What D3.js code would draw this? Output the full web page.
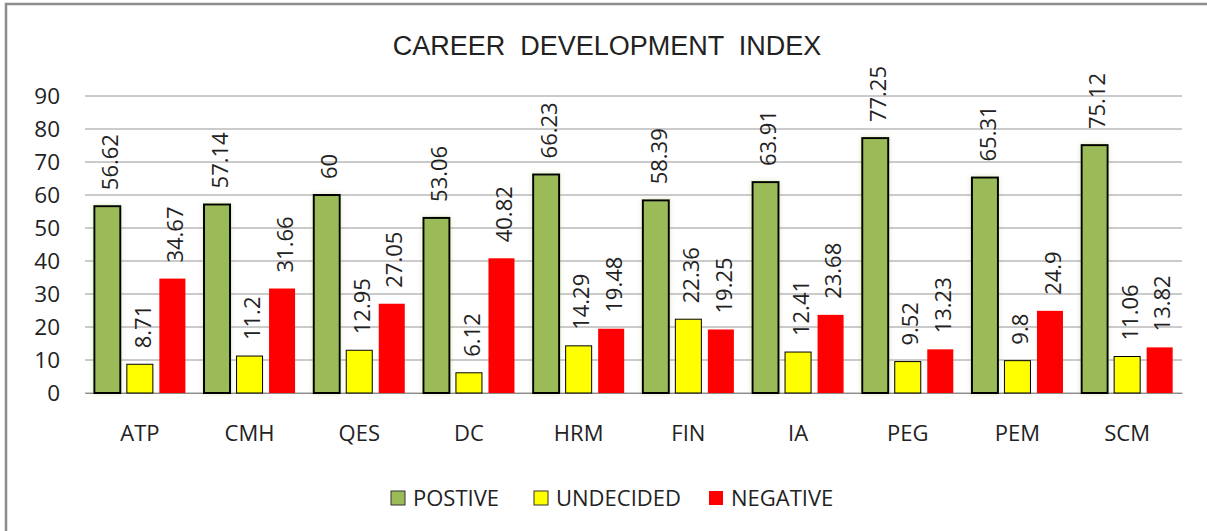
<!DOCTYPE html>
<html>
<head>
<meta charset="utf-8">
<script src="https://cdn.jsdelivr.net/npm/d3@7"></script>
<style>
  body { margin: 0; background: #fff; }
  svg text { font-family: "Open Sans", "Noto Sans", sans-serif; fill: #222; }
</style>
</head>
<body>
<svg id="chart" width="1207" height="531"></svg>
<script>
var categories = ["ATP", "CMH", "QES", "DC", "HRM", "FIN", "IA", "PEG", "PEM", "SCM"];
var seriesNames = ["POSTIVE", "UNDECIDED", "NEGATIVE"];
var positive = [56.62, 57.14, 60, 53.06, 66.23, 58.39, 63.91, 77.25, 65.31, 75.12];
var undecided = [8.71, 11.2, 12.95, 6.12, 14.29, 22.36, 12.41, 9.52, 9.8, 11.06];
var negative = [34.67, 31.66, 27.05, 40.82, 19.48, 19.25, 23.68, 13.23, 24.9, 13.82];
var yTicks = [0, 10, 20, 30, 40, 50, 60, 70, 80, 90];
var colors = ["#9bbb59", "#ffff00", "#ff0000"];

var svg = d3.select("#chart");
var margin = {left: 85, right: 25, top: 96, bottom: 138};
var W = 1207, H = 531;

// frame
svg.append("rect").attr("x", 6).attr("y", 4).attr("width", 1220).attr("height", 540)
	.attr("fill", "none").attr("stroke", "#8c8c8c").attr("stroke-width", 2.5);

var defs = svg.append("defs");
var glow = defs.append("filter").attr("id", "glow").attr("x", "-30%").attr("y", "-10%").attr("width", "160%").attr("height", "120%");
glow.append("feGaussianBlur").attr("in", "SourceAlpha").attr("stdDeviation", 2.5).attr("result", "b");
glow.append("feFlood").attr("flood-color", "#9bbb59").attr("flood-opacity", 0.35);
glow.append("feComposite").attr("in2", "b").attr("operator", "in").attr("result", "s");
var mg = glow.append("feMerge");
mg.append("feMergeNode").attr("in", "s");
mg.append("feMergeNode").attr("in", "SourceGraphic");

var x0 = d3.scaleBand().domain(categories).range([margin.left, W - margin.right]).paddingInner(0.17).paddingOuter(0.085);
var x1 = d3.scaleBand().domain(seriesNames).range([0, x0.bandwidth()]).paddingInner(0.2);
var y = d3.scaleLinear().domain([0, 90]).range([H - margin.bottom, margin.top]);

// gridlines
svg.append("g").selectAll("line").data(yTicks).enter().append("line")
	.attr("x1", margin.left).attr("x2", W - margin.right)
	.attr("y1", function(d){ return y(d); }).attr("y2", function(d){ return y(d); })
	.attr("stroke", "#969696").attr("stroke-width", 1);

// y axis labels
var yAxis = d3.axisLeft(y).tickValues(yTicks).tickSize(0).tickPadding(25);
var ga = svg.append("g").attr("transform", "translate(" + margin.left + ",0)").call(yAxis);
ga.select(".domain").remove();
ga.selectAll("text").attr("font-size", 22.5).style("font-family", "'Open Sans', sans-serif").attr("fill", "#222");

// x labels
var xAxis = d3.axisBottom(x0).tickSize(0).tickPadding(32);
var gx = svg.append("g").attr("transform", "translate(0," + y(0) + ")").call(xAxis);
gx.select(".domain").attr("stroke", "#8c8c8c");
gx.selectAll("text").attr("font-size", 22).style("font-family", "'Open Sans', sans-serif").attr("fill", "#222");

var rows = categories.map(function(c, i){
	return [
		{cat: c, s: seriesNames[0], v: positive[i], k: 0},
		{cat: c, s: seriesNames[1], v: undecided[i], k: 1},
		{cat: c, s: seriesNames[2], v: negative[i], k: 2}
	];
});

var groups = svg.append("g").selectAll("g").data(rows).enter().append("g")
	.attr("transform", function(d){ return "translate(" + x0(d[0].cat) + ",0)"; });

groups.selectAll("rect").data(function(d){ return d; }).enter().append("rect")
	.attr("x", function(d){ return x1(d.s); })
	.attr("y", function(d){ return y(d.v); })
	.attr("width", x1.bandwidth())
	.attr("height", function(d){ return y(0) - y(d.v); })
	.attr("fill", function(d){ return colors[d.k]; })
	.attr("stroke", function(d){ return d.k == 2 ? "none" : "#000"; })
	.attr("stroke-width", function(d){ return d.k == 0 ? 2 : 1; })
	.attr("filter", function(d){ return d.k == 0 ? "url(#glow)" : null; });

groups.selectAll("text").data(function(d){ return d; }).enter().append("text")
	.attr("transform", function(d){
		var cx = x1(d.s) + x1.bandwidth() / 2 + 3;
		return "translate(" + cx + "," + (y(d.v) - 16) + ") rotate(-90)";
	})
	.attr("dy", "0.35em")
	.attr("font-size", 22)
	.text(function(d){ return d.v; });

// title
svg.append("text").attr("x", 607).attr("y", 55).attr("text-anchor", "middle")
	.style("font-family", "'Liberation Sans', Arial, sans-serif").attr("font-size", 27)
	.attr("fill", "#111").attr("xml:space", "preserve").style("white-space", "pre")
	.text("CAREER  DEVELOPMENT  INDEX");

// legend
var legX = [391, 534, 709];
var leg = svg.append("g").selectAll("g").data(seriesNames).enter().append("g")
	.attr("transform", function(d, i){ return "translate(" + legX[i] + ",491)"; });
leg.append("rect").attr("width", 14).attr("height", 14)
	.attr("fill", function(d, i){ return colors[i]; })
	.attr("stroke", function(d, i){ return i == 2 ? "none" : "#333"; });
leg.append("text").attr("x", 22).attr("y", 7).attr("dy", "0.35em").attr("font-size", 22)
	.text(function(d){ return d; });
</script>
</body>
</html>
